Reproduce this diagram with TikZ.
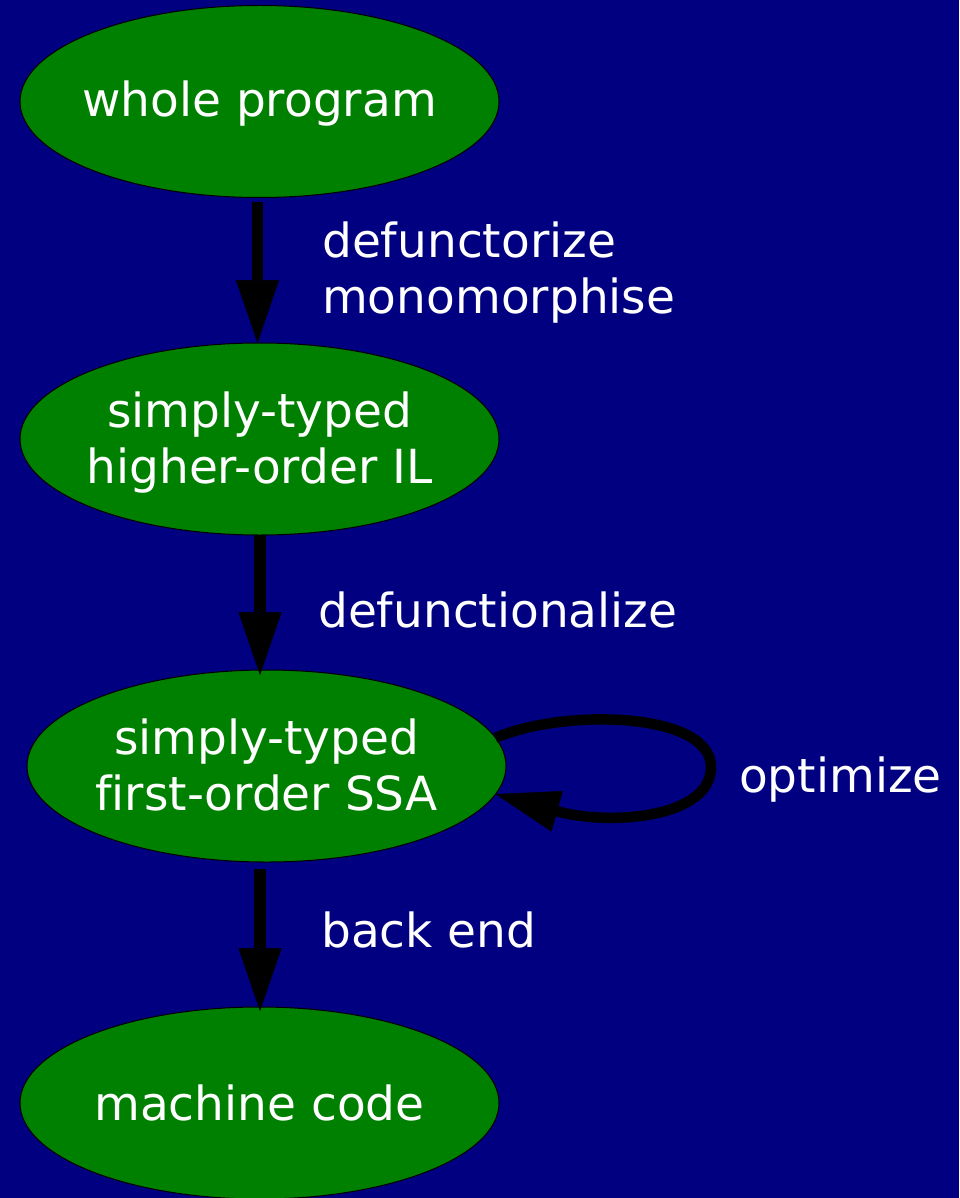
\documentclass[tikz,border=0pt]{standalone}
\usepackage{fontspec}
\setmainfont[Ligatures=NoCommon]{DejaVu Sans}
\usetikzlibrary{arrows.meta,shapes.geometric}

\definecolor{bgnavy}{RGB}{0,0,128}
\definecolor{stagegreen}{RGB}{0,128,0}

\tikzset{
  stage/.style={ellipse, fill=stagegreen, draw=black, line width=1pt,
    minimum width=479pt, minimum height=192pt, inner sep=0pt, outer sep=0pt},
  txt/.style={text=white, inner sep=0pt, font=\fontsize{47}{56}\selectfont},
  ctext/.style={txt, anchor=base},
  ltext/.style={txt, anchor=base west},
  pass/.style={draw=black, line width=11.5pt,
    -{Triangle[length=63pt,width=43pt,line width=0.5pt]}},
  selfpass/.style={draw=black, line width=10.5pt,
    -{Triangle[length=64pt,width=42pt,line width=0.5pt]}}
}

\begin{document}
\begin{tikzpicture}[x=1pt,y=-1pt]
  % canvas
  \fill[bgnavy] (0,0) rectangle (959,1198);
  \useasboundingbox (0,0) rectangle (959,1198);

  % pipeline stages
  \node[stage] (n1) at (259.5,101.5) {};
  \node[stage] (n2) at (259.5,439) {};
  \node[stage] (n3) at (266.5,766) {};
  \node[stage] (n4) at (259.5,1103) {};

  % stage names
  \node[ctext] (t1)  at (259.5,117) {whole program};
  \node[ctext] (t2a) at (259.5,427) {simply-typed};
  \node[ctext] (t2b) at (259.5,483) {higher-order IL};
  \node[ctext] (t3a) at (266.5,754) {simply-typed};
  \node[ctext] (t3b) at (266.5,810) {first-order SSA};
  \node[ctext] (t4)  at (259.5,1120) {machine code};

  % transformations
  \draw[pass] ([xshift=-2pt,yshift=-5pt]n1.south) -- ([xshift=-2pt]n2.north);
  \draw[pass] ([xshift=0.5pt]n2.south) -- ([xshift=-6.5pt,yshift=-5pt]n3.north);
  \draw[pass] ([xshift=-6.5pt,yshift=-7pt]n3.south) -- ([xshift=0.5pt,yshift=-4pt]n4.north);
  \draw[selfpass] (n3.7) .. controls (565,708) and (711,712) .. (711,767)
                         .. controls (711,818) and (610,826) .. (n3.-7);

  % transformation names
  \node[ltext] (l1a) at (322,257) {defunctorize};
  \node[ltext] (l1b) at (322,313) {monomorphise};
  \node[ltext] (l2)  at (318,627) {defunctionalize};
  \node[ltext] (l3)  at (739,792) {optimize};
  \node[ltext] (l4)  at (321,947) {back end};
\end{tikzpicture}
\end{document}
